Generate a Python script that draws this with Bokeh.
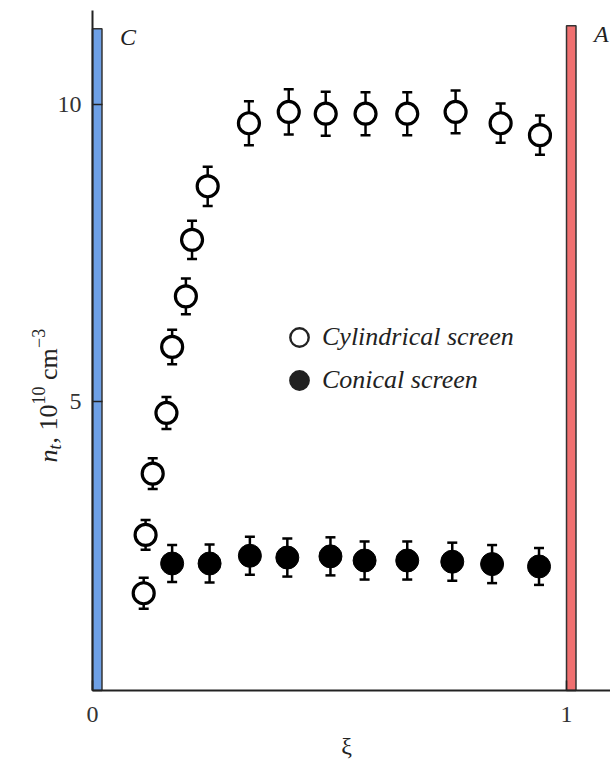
import numpy as np
from bokeh.plotting import figure
from bokeh.models import (ColumnDataSource, Whisker, TeeHead, FixedTicker, Label,
                          Legend, LegendItem, Range1d)
from bokeh.core.properties import value
from bokeh.embed import file_html
from bokeh.resources import INLINE

# ---------------- data ----------------
cyl_x = [0.108, 0.112, 0.127, 0.156, 0.168, 0.197, 0.210, 0.243, 0.330, 0.414,
         0.492, 0.576, 0.664, 0.766, 0.861, 0.944]
cyl_y = [1.78, 2.76, 3.79, 4.81, 5.92, 6.77, 7.72, 8.62, 9.68, 9.87,
         9.84, 9.84, 9.84, 9.87, 9.68, 9.48]
cyl_err = [0.26, 0.25, 0.26, 0.27, 0.29, 0.30, 0.32, 0.33, 0.37, 0.38,
           0.37, 0.36, 0.36, 0.36, 0.33, 0.33]

con_x = [0.168, 0.247, 0.332, 0.411, 0.502, 0.574, 0.664, 0.759, 0.843, 0.942]
con_y = [2.28, 2.28, 2.41, 2.38, 2.40, 2.33, 2.33, 2.31, 2.27, 2.23]
con_err = [0.31, 0.32, 0.32, 0.32, 0.32, 0.32, 0.32, 0.32, 0.32, 0.31]

electrode_names = ["C", "A"]
electrode_left = [0.0, 1.0]
electrode_right = [0.02, 1.02]
electrode_top = [11.27, 11.32]
electrode_colors = ["#6ea0e6", "#f07070"]

x_ticks = [0, 1]
y_ticks = [5, 10]
series_labels = ["Cylindrical screen", "Conical screen"]

# axis extents (data units)
x_axis_min, x_axis_max = 0.0, 1.0928
y_axis_min, y_axis_max = 0.145, 11.575

FONT = "Liberation Serif"
INK = "#222222"

# The frame covers the whole canvas; axes sit at fixed data locations so
# that the labels around them are drawn inside the frame.
p = figure(width=610, height=760,
           x_range=Range1d(-0.1941, 1.0928), y_range=Range1d(-1.0315, 11.743),
           output_backend="svg", toolbar_location=None,
           min_border_left=0, min_border_right=0,
           min_border_top=0, min_border_bottom=0)
p.outline_line_color = None
p.grid.visible = False

for ax in (p.xaxis[0], p.yaxis[0]):
    ax.axis_line_width = 2
    ax.axis_line_color = INK
    ax.major_tick_in = 10
    ax.major_tick_out = 0
    ax.major_tick_line_width = 1.5
    ax.major_tick_line_color = INK
    ax.minor_tick_line_color = None
    ax.major_label_text_font = FONT
    ax.major_label_text_font_size = "24px"
    ax.major_label_text_color = "#333333"
p.xaxis.ticker = FixedTicker(ticks=x_ticks)
p.yaxis.ticker = FixedTicker(ticks=y_ticks)
p.xaxis.major_label_standoff = 16
p.yaxis.major_label_standoff = 11
p.xaxis.fixed_location = y_axis_min
p.yaxis.fixed_location = x_axis_min
p.xaxis.bounds = (x_axis_min, x_axis_max)
p.yaxis.bounds = (y_axis_min, y_axis_max)

# electrodes
el_src = ColumnDataSource(dict(left=electrode_left, right=electrode_right,
                               top=electrode_top,
                               bottom=[y_axis_min] * len(electrode_names),
                               color=electrode_colors, name=electrode_names))
p.quad(left="left", right="right", top="top", bottom="bottom", source=el_src,
       fill_color="color", line_color="#333333", line_width=1.5)
p.text(x="right", y="top", text="name", source=el_src, x_offset=18, y_offset=-5,
       text_font=value(FONT), text_font_style="italic", text_font_size="24px",
       text_baseline="top", text_align="left", text_color=INK)

# error bars
def add_err(xs, ys, es):
    xs = np.array(xs); ys = np.array(ys); es = np.array(es)
    src = ColumnDataSource(dict(x=xs, upper=ys + es, lower=ys - es))
    w = Whisker(source=src, base="x", upper="upper", lower="lower",
                dimension="height", line_width=2.5, line_color="black",
                upper_head=TeeHead(size=10, line_width=2.5, line_color="black"),
                lower_head=TeeHead(size=10, line_width=2.5, line_color="black"))
    p.add_layout(w)

add_err(cyl_x, cyl_y, cyl_err)
add_err(con_x, con_y, con_err)

p.scatter(cyl_x, cyl_y, marker="circle", size=21, fill_color="white",
          line_color="black", line_width=3.2)
p.scatter(con_x, con_y, marker="circle", size=23, fill_color="black",
          line_color="black", line_width=1)

# legend (one single-item legend per row, for exact row spacing)
leg_open = p.scatter([np.nan], [np.nan], marker="circle", fill_color="white",
                     line_color=INK, line_width=2.4)
leg_fill = p.scatter([np.nan], [np.nan], marker="circle", fill_color=INK,
                     line_color=INK, line_width=2.4)
for lab, rend, loc in ((series_labels[0], leg_open, (276, 396)),
                       (series_labels[1], leg_fill, (276, 353))):
    legend = Legend(items=[LegendItem(label=lab, renderers=[rend])],
                    location=loc, glyph_width=46, glyph_height=54,
                    padding=0, margin=0, label_standoff=0,
                    label_text_font=FONT, label_text_font_style="italic",
                    label_text_font_size="26px", label_text_color=INK,
                    border_line_color=None, background_fill_alpha=0)
    p.add_layout(legend)

# y-axis label: n_t, 10^10 cm^-3 (rotated); screen units (frame = canvas)
y0 = 298
xb = 48
parts = [
    ("n", 0, xb, "26px", "italic"),
    ("t", 13, xb + 6, "18px", "italic"),
    (", 10", 19, xb, "26px", "normal"),
    ("10", 58, xb - 10, "18px", "normal"),
    ("cm", 82.5, xb, "26px", "normal"),
    ("\u22123", 114.5, xb - 10, "18px", "normal"),
]
for txt, dy, xx, fs, st in parts:
    p.add_layout(Label(x=xx, y=y0 + dy, x_units="screen", y_units="screen",
                       angle=90, angle_units="deg", text=txt, text_font=FONT,
                       text_font_size=fs, text_font_style=st, text_align="left",
                       text_baseline="alphabetic", text_color=INK))

# x-axis label
p.add_layout(Label(x=346, y=15, x_units="screen", y_units="screen", text="\u03be",
                   text_font=FONT, text_font_size="24px", text_align="center",
                   text_baseline="middle", text_color=INK))

open("out.html", "w").write(file_html(p, INLINE))
